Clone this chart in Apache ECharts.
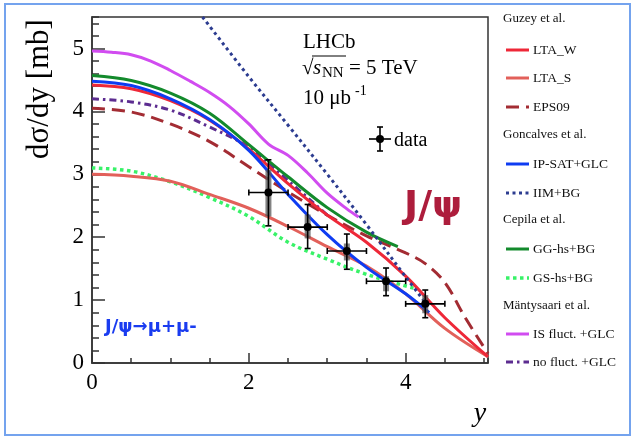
<!DOCTYPE html>
<html><head><meta charset="utf-8">
<script src="https://cdn.jsdelivr.net/npm/echarts@6/dist/echarts.min.js"></script>
<style>html,body{margin:0;padding:0;background:#fff}#c{width:635px;height:439px}</style>
</head><body><div id="c"></div>
<script>
// ---- data ----
const xTicks = [0, 2, 4];
const yTicks = [0, 1, 2, 3, 4, 5];

const ltaW_x = [0, 0.5, 1, 1.5, 2, 2.5, 3, 3.5, 4, 4.5, 5.05];
const ltaW_y = [4.42, 4.36, 4.17, 3.86, 3.40, 2.85, 2.35, 1.92, 1.38, 0.72, 0.10];
const ltaS_x = [0, 0.5, 1, 1.5, 2, 2.5, 3, 3.5, 4, 4.5, 5.05];
const ltaS_y = [3.00, 2.97, 2.89, 2.68, 2.46, 2.17, 1.85, 1.54, 1.10, 0.55, 0.10];
const eps_x = [0, 0.5, 1, 1.5, 2, 2.5, 3, 3.5, 4, 4.25, 4.5, 4.75, 5.05];
const eps_y = [4.05, 3.99, 3.80, 3.52, 3.12, 2.72, 2.35, 2.02, 1.75, 1.58, 1.28, 0.74, 0.15];
const ipsat_x = [0, 0.5, 1, 1.5, 2, 2.5, 3, 3.5, 4, 4.3];
const ipsat_y = [4.48, 4.41, 4.20, 3.87, 3.38, 2.68, 2.04, 1.52, 1.10, 0.80];
const iim_x = [1.41, 2, 2.5, 3, 3.5, 4, 4.3];
const iim_y = [5.50, 4.55, 3.78, 3.00, 2.20, 1.37, 0.88];
const gg_x = [0, 0.5, 1, 1.5, 2, 2.5, 3, 3.5, 3.9];
const gg_y = [4.57, 4.49, 4.29, 3.97, 3.47, 2.96, 2.47, 2.08, 1.85];
const gs_x = [0, 0.5, 1, 1.5, 2, 2.5, 3, 3.5, 4.1];
const gs_y = [3.10, 3.05, 2.88, 2.63, 2.33, 1.92, 1.65, 1.41, 1.19];
const isf_x = [0, 0.25, 0.5, 0.75, 1, 1.25, 1.5, 1.75, 2, 2.25, 2.5, 2.75, 3, 3.25, 3.4];
const isf_y = [4.96, 4.94, 4.90, 4.80, 4.65, 4.48, 4.30, 4.08, 3.80, 3.48, 3.30, 3.02, 2.70, 2.45, 2.32];
const nof_x = [0, 0.5, 1, 1.5, 2, 2.5, 3];
const nof_y = [4.20, 4.15, 4.02, 3.75, 3.43, 2.90, 2.35];

const data_x = [2.25, 2.75, 3.25, 3.75, 4.25];
const data_y = [2.71, 2.16, 1.78, 1.30, 0.94];
const data_xerr = [0.25, 0.25, 0.25, 0.25, 0.25];
const stat_lo = [2.18, 1.82, 1.49, 1.07, 0.72];
const stat_hi = [3.23, 2.52, 2.05, 1.51, 1.16];
const sys_lo = [2.33, 1.98, 1.63, 1.14, 0.79];
const sys_hi = [3.07, 2.36, 1.90, 1.38, 1.08];

const legendRows = [
  ['Guzey et al.', null],
  ['LTA_W', 'ltaW'], ['LTA_S', 'ltaS'], ['EPS09', 'eps'],
  ['Goncalves et al.', null],
  ['IP-SAT+GLC', 'ipsat'], ['IIM+BG', 'iim'],
  ['Cepila et al.', null],
  ['GG-hs+BG', 'gg'], ['GS-hs+BG', 'gs'],
  ['Mäntysaari et al.', null],
  ['IS fluct. +GLC', 'isf'], ['no fluct. +GLC', 'nof']
];

// ---- styles ----
const styles = {
  ltaW: {color: '#ee2838', type: 'solid', width: 3},
  ltaS: {color: '#e2605a', type: 'solid', width: 3},
  eps: {color: '#a32c33', type: [13, 7], width: 3},
  ipsat: {color: '#0e3cf2', type: 'solid', width: 3},
  iim: {color: '#2c3c90', type: [3, 3.5], width: 3},
  gg: {color: '#138a2c', type: 'solid', width: 3},
  gs: {color: '#38f268', type: [3.5, 3.5], width: 3.5},
  isf: {color: '#d14cf0', type: 'solid', width: 3},
  nof: {color: '#5c2c90', type: [7, 4, 2.5, 4], width: 3}
};
const curves = {
  ltaW: [ltaW_x, ltaW_y], ltaS: [ltaS_x, ltaS_y], eps: [eps_x, eps_y],
  ipsat: [ipsat_x, ipsat_y], iim: [iim_x, iim_y], gg: [gg_x, gg_y],
  gs: [gs_x, gs_y], isf: [isf_x, isf_y], nof: [nof_x, nof_y]
};
const order = ['gs', 'ltaS', 'eps', 'nof', 'ltaW', 'ipsat', 'gg', 'isf', 'iim'];

const SERIF = '"Liberation Serif", "DejaVu Serif", serif';
const series = order.map(k => ({
  type: 'line', name: k, smooth: 0.35, showSymbol: false, silent: true,
  xAxisIndex: 0, yAxisIndex: 0,
  data: curves[k][0].map((x, i) => [x, curves[k][1][i]]),
  lineStyle: {color: styles[k].color, type: styles[k].type, width: styles[k].width, cap: 'butt'},
  z: 3
}));

series.push({
  type: 'custom', xAxisIndex: 0, yAxisIndex: 0, z: 5,
  data: data_x.map((x, i) => [x, data_y[i], data_xerr[i], stat_lo[i], stat_hi[i], sys_lo[i], sys_hi[i]]),
  encode: {x: 0, y: 1},
  renderItem: function (params, api) {
    const x = api.value(0), y = api.value(1), xe = api.value(2);
    const c = api.coord([x, y]);
    const l = api.coord([x - xe, y]), r = api.coord([x + xe, y]);
    const sl = api.coord([x, api.value(3)]), sh = api.coord([x, api.value(4)]);
    const yl = api.coord([x, api.value(5)]), yh = api.coord([x, api.value(6)]);
    const st = {stroke: '#000', lineWidth: 1.6};
    const cap = 3;
    return {type: 'group', children: [
      {type: 'rect', shape: {x: c[0] - 3, y: yh[1], width: 6, height: yl[1] - yh[1]}, style: {fill: 'rgba(90,90,90,0.75)'}},
      {type: 'line', shape: {x1: l[0], y1: c[1], x2: r[0], y2: r[1]}, style: st},
      {type: 'line', shape: {x1: c[0], y1: sl[1], x2: c[0], y2: sh[1]}, style: st},
      {type: 'line', shape: {x1: l[0], y1: c[1] - cap, x2: l[0], y2: c[1] + cap}, style: st},
      {type: 'line', shape: {x1: r[0], y1: c[1] - cap, x2: r[0], y2: c[1] + cap}, style: st},
      {type: 'line', shape: {x1: c[0] - cap, y1: sl[1], x2: c[0] + cap, y2: sl[1]}, style: st},
      {type: 'line', shape: {x1: c[0] - cap, y1: sh[1], x2: c[0] + cap, y2: sh[1]}, style: st},
      {type: 'circle', shape: {cx: c[0], cy: c[1], r: 4}, style: {fill: '#000'}}
    ]};
  }
});

// ---- graphics (texts, legend) ----
const g = [];
g.push({type: 'rect', shape: {x: 5, y: 4, width: 625, height: 431}, style: {fill: 'none', stroke: '#74a3ee', lineWidth: 2}, z: 0});
g.push({type: 'text', x: 40, y: 89, rotation: Math.PI / 2, style: {text: 'dσ/dy [mb]', font: '31px ' + SERIF, fill: '#000', textAlign: 'center', textVerticalAlign: 'middle'}});
g.push({type: 'text', x: 480, y: 414, style: {text: 'y', font: 'italic 28px ' + SERIF, fill: '#000', textAlign: 'center', textVerticalAlign: 'middle'}});
g.push({type: 'text', x: 303, y: 42, style: {text: 'LHCb', font: '21px ' + SERIF, fill: '#000', textVerticalAlign: 'middle'}});
g.push({type: 'text', x: 302, y: 68, style: {text: '√', font: '21px ' + SERIF, fill: '#000', textVerticalAlign: 'middle'}});
g.push({type: 'line', shape: {x1: 312, y1: 56, x2: 346, y2: 56}, style: {stroke: '#000', lineWidth: 1}});
g.push({type: 'text', x: 313, y: 68, style: {text: 's', font: 'italic 21px ' + SERIF, fill: '#000', textVerticalAlign: 'middle'}});
g.push({type: 'text', x: 322, y: 73, style: {text: 'NN', font: '15px ' + SERIF, fill: '#000', textVerticalAlign: 'middle'}});
g.push({type: 'text', x: 349, y: 68, style: {text: '= 5 TeV', font: '21px ' + SERIF, fill: '#000', textVerticalAlign: 'middle'}});
g.push({type: 'text', x: 303, y: 98, style: {text: '10 μb', font: '21px ' + SERIF, fill: '#000', textVerticalAlign: 'middle'}});
g.push({type: 'text', x: 355, y: 91, style: {text: '-1', font: '14px ' + SERIF, fill: '#000', textVerticalAlign: 'middle'}});
// data legend marker
g.push({type: 'line', shape: {x1: 369, y1: 139, x2: 391, y2: 139}, style: {stroke: '#000', lineWidth: 1.6}});
g.push({type: 'line', shape: {x1: 380, y1: 127, x2: 380, y2: 151}, style: {stroke: '#000', lineWidth: 1.6}});
g.push({type: 'line', shape: {x1: 377, y1: 127, x2: 383, y2: 127}, style: {stroke: '#000', lineWidth: 1.6}});
g.push({type: 'line', shape: {x1: 377, y1: 151, x2: 383, y2: 151}, style: {stroke: '#000', lineWidth: 1.6}});
g.push({type: 'circle', shape: {cx: 380, cy: 139, r: 4}, style: {fill: '#000'}});
g.push({type: 'text', x: 394, y: 141, style: {text: 'data', font: '20px ' + SERIF, fill: '#000', textVerticalAlign: 'middle'}});
// annotations
g.push({type: 'text', x: 404, y: 207, style: {text: 'J/ψ', font: 'bold 38px "DejaVu Sans", sans-serif', fill: '#ad1d3c', textVerticalAlign: 'middle'}});
g.push({type: 'text', x: 105, y: 327, style: {text: 'J/ψ→μ+μ-', font: 'bold 18px "DejaVu Sans", sans-serif', fill: '#1a3cf0', textVerticalAlign: 'middle'}});
// right legend
const rowY = [19, 50, 78, 107, 135, 164, 193, 220, 249, 278, 306, 334, 362];
legendRows.forEach((row, i) => {
  const y = rowY[i];
  if (row[1] === null) {
    g.push({type: 'text', x: 503, y: y, style: {text: row[0], font: '13px ' + SERIF, fill: '#111', textVerticalAlign: 'middle'}});
  } else {
    const s = styles[row[1]];
    g.push({type: 'line', shape: {x1: 506, y1: y, x2: 529, y2: y}, style: {stroke: s.color, lineWidth: s.width, lineDash: s.type === 'solid' ? null : s.type}});
    g.push({type: 'text', x: 533, y: y, style: {text: row[0], font: '13.5px ' + SERIF, fill: '#111', textVerticalAlign: 'middle'}});
  }
});

const axisCol = '#333';
const option = {
  animation: false,
  backgroundColor: '#fff',
  grid: {left: 92, right: 147, top: 17, bottom: 76, show: true, borderColor: axisCol, borderWidth: 1.5, backgroundColor: 'transparent'},
  xAxis: [
    {type: 'value', min: 0, max: 5.05, interval: 2, position: 'bottom',
     axisLine: {show: true, lineStyle: {color: axisCol, width: 1.5}},
     axisTick: {show: true, inside: true, length: 10, lineStyle: {color: axisCol, width: 1.5}},
     axisLabel: {show: true, fontFamily: SERIF, fontSize: 23, color: '#000', margin: 8, showMaxLabel: false,
       formatter: v => (xTicks.indexOf(v) >= 0 ? String(v) : '')},
     splitLine: {show: false}},
    {type: 'value', min: 0, max: 5.05, interval: 0.5, position: 'bottom',
     axisLine: {show: false},
     axisTick: {show: true, inside: true, length: 5, lineStyle: {color: axisCol, width: 1.5}},
     axisLabel: {show: false}, splitLine: {show: false}}
  ],
  yAxis: [
    {type: 'value', min: 0, max: 5.5, interval: 1, position: 'left',
     axisLine: {show: true, lineStyle: {color: axisCol, width: 1.5}},
     axisTick: {show: true, inside: true, length: 13, lineStyle: {color: axisCol, width: 1.5}},
     axisLabel: {show: true, fontFamily: SERIF, fontSize: 23, color: '#000', margin: 8, showMaxLabel: false,
       formatter: v => (yTicks.indexOf(v) >= 0 ? String(v) : '')},
     splitLine: {show: false}},
    {type: 'value', min: 0, max: 5.5, interval: 0.2, position: 'left',
     axisLine: {show: false},
     axisTick: {show: true, inside: true, length: 7, lineStyle: {color: axisCol, width: 1.5}},
     axisLabel: {show: false}, splitLine: {show: false}}
  ],
  series: series,
  graphic: g
};
const chart = echarts.init(document.getElementById('c'), null, {renderer: 'canvas'});
chart.setOption(option);
</script></body></html>
